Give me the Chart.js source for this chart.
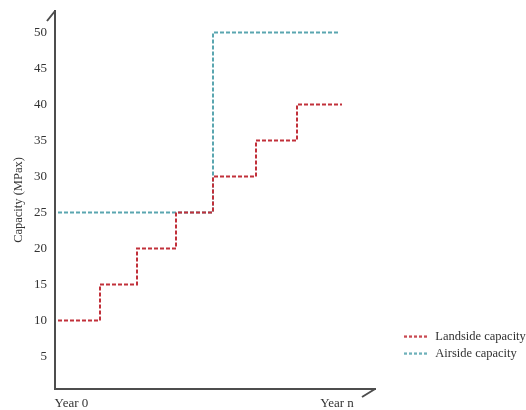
<!DOCTYPE html>
<html>
<head>
<meta charset="utf-8">
<script src="https://cdn.jsdelivr.net/npm/chart.js@4"></script>
<style>
  html, body { margin: 0; padding: 0; background: #ffffff; }
  #wrap { width: 526px; height: 410px; }
</style>
</head>
<body>
<div id="wrap"><canvas id="capacityChart"></canvas></div>
<script>
// Step positions along the time axis and capacities
var landsideYears = [0.075, 1.125, 2.05, 3.025, 3.95, 5.025, 6.05, 7.175];
var landsideCapacity = [10, 15, 20, 25, 30, 35, 40, 40];
var airsideYears = [0.075, 3.95, 7.1];
var airsideCapacity = [25, 50, 50];

var yTicks = [5, 10, 15, 20, 25, 30, 35, 40, 45, 50];
var xTickValues = [0.41, 7.05];
var xTickLabels = ['Year 0', 'Year n'];
var seriesNames = ['Landside capacity', 'Airside capacity'];

var landsideColor = '#c1303a';
var airsideColor = '#5aa6b0';
var axisColor = '#4d4d4d';
var serif = "'Liberation Serif', 'DejaVu Serif', serif";

var toPoints = function(xs, ys) {
    return xs.map(function(x, i) {
        return {x: x, y: ys[i]};
    });
};

// small dashed line used as legend sample
var dashSample = function(color) {
    var c = document.createElement('canvas');
    c.width = 24;
    c.height = 3;
    var g = c.getContext('2d');
    g.strokeStyle = color;
    g.lineWidth = 2;
    g.setLineDash([3, 2]);
    g.beginPath();
    g.moveTo(0, 1.5);
    g.lineTo(24, 1.5);
    g.stroke();
    return c;
};

// the little slashes at the end of both axes
var axisArrows = {
    id: 'axisArrows',
    afterDraw: function(chart) {
        var a = chart.chartArea;
        var ctx = chart.ctx;
        ctx.save();
        ctx.strokeStyle = axisColor;
        ctx.lineWidth = 2;
        ctx.beginPath();
        ctx.moveTo(a.left, a.top);
        ctx.lineTo(a.left - 8, a.top + 10);
        ctx.moveTo(a.right, a.bottom);
        ctx.lineTo(a.right - 13, a.bottom + 8);
        ctx.stroke();
        ctx.restore();
    }
};

// no extra room for half tick labels, the layout padding sets it
var noEdgePadding = function(scale) {
    scale.paddingTop = 0;
    scale.paddingBottom = 0;
    scale.paddingLeft = 0;
    scale.paddingRight = 0;
};

new Chart(document.getElementById('capacityChart'), {
    type: 'line',
    data: {
        datasets: [{
            label: seriesNames[0],
            data: toPoints(landsideYears, landsideCapacity),
            borderColor: landsideColor,
            borderWidth: 2,
            borderDash: [4, 2],
            stepped: true,
            pointRadius: 0,
            fill: false
        }, {
            label: seriesNames[1],
            data: toPoints(airsideYears, airsideCapacity),
            borderColor: airsideColor,
            borderWidth: 2,
            borderDash: [4, 2],
            stepped: true,
            pointRadius: 0,
            fill: false
        }]
    },
    options: {
        responsive: true,
        maintainAspectRatio: false,
        animation: false,
        layout: {
            padding: {top: 11, left: 0, right: 0, bottom: 0}
        },
        scales: {
            x: {
                type: 'linear',
                min: 0,
                max: 8,
                grid: {display: false, drawTicks: false},
                border: {display: true, color: axisColor, width: 2},
                afterBuildTicks: function(scale) {
                    scale.ticks = xTickValues.map(function(v) {
                        return {value: v};
                    });
                },
                afterFit: function(scale) {
                    scale.height = 21;
                    noEdgePadding(scale);
                },
                ticks: {
                    padding: 7,
                    maxRotation: 0,
                    autoSkip: false,
                    color: '#333333',
                    font: {family: serif, size: 13},
                    callback: function(value) {
                        var i = xTickValues.indexOf(value);
                        return i >= 0 ? xTickLabels[i] : '';
                    }
                }
            },
            y: {
                min: 0.5,
                max: 53,
                grid: {display: false, drawTicks: false},
                border: {display: true, color: axisColor, width: 2},
                afterBuildTicks: function(scale) {
                    scale.ticks = yTicks.map(function(v) {
                        return {value: v};
                    });
                },
                afterFit: function(scale) {
                    scale.width = 55;
                    noEdgePadding(scale);
                },
                ticks: {
                    padding: 8,
                    color: '#333333',
                    font: {family: serif, size: 13}
                },
                title: {
                    display: true,
                    text: 'Capacity (MPax)',
                    color: '#333333',
                    font: {family: serif, size: 12.5},
                    padding: {top: 11, bottom: 0}
                }
            },
            gap: {
                type: 'linear',
                position: 'right',
                display: true,
                grid: {display: false},
                border: {display: false},
                ticks: {display: false},
                afterFit: function(scale) {
                    scale.width = 23.5;
                    noEdgePadding(scale);
                }
            }
        },
        plugins: {
            legend: {
                position: 'right',
                align: 'start',
                fullSize: false,
                maxWidth: 127.5,
                title: {
                    display: true,
                    text: ' ',
                    font: {size: 10},
                    padding: {top: 303, bottom: 0}
                },
                labels: {
                    usePointStyle: true,
                    pointStyleWidth: 26,
                    padding: 4.5,
                    color: '#333333',
                    font: {family: serif, size: 12.5},
                    generateLabels: function(chart) {
                        var items = Chart.defaults.plugins.legend.labels.generateLabels(chart);
                        items.forEach(function(item) {
                            item.pointStyle = dashSample(item.strokeStyle);
                        });
                        return items;
                    }
                }
            },
            tooltip: {enabled: false}
        }
    },
    plugins: [axisArrows]
});
</script>
</body>
</html>
